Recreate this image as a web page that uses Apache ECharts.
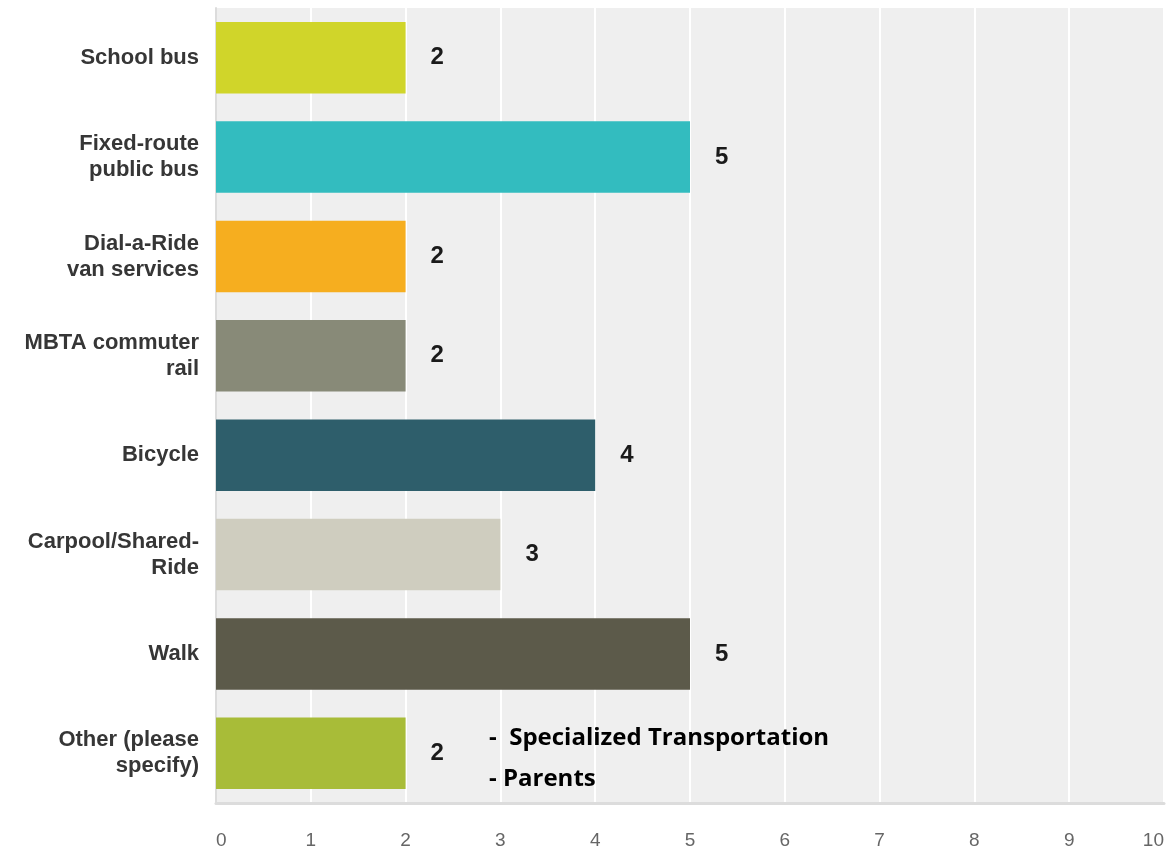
<!DOCTYPE html>
<html>
<head>
<meta charset="utf-8">
<script src="https://cdn.jsdelivr.net/npm/echarts@6/dist/echarts.min.js"></script>
<style>
html,body{margin:0;padding:0;background:#fff;}
#chart{width:1170px;height:851px;}
</style>
</head>
<body>
<div id="chart"></div>
<script>
var categories = ["School bus", "Fixed-route\npublic bus", "Dial-a-Ride\nvan services", "MBTA commuter\nrail", "Bicycle", "Carpool/Shared-\nRide", "Walk", "Other (please\nspecify)"];
var values = [2, 5, 2, 2, 4, 3, 5, 2];
var barColors = ["#d0d52a", "#33bcbf", "#f6ae1f", "#888a78", "#2e5e6b", "#cfcdbf", "#5c5a4a", "#a8bc38"];
var xTicks = [0, 1, 2, 3, 4, 5, 6, 7, 8, 9, 10];
var noteLines = ["-  Specialized Transportation", "- Parents"];

var FONT = "'Liberation Sans', Arial, sans-serif";
var chart = echarts.init(document.getElementById('chart'));
chart.setOption({
  animation: false,
  grid: {
    left: 216, right: 6, top: 8, bottom: 48,
    outerBoundsMode: 'none', containLabel: false,
    show: true, backgroundColor: '#efefef', borderWidth: 0
  },
  xAxis: {
    type: 'value', min: xTicks[0], max: xTicks[xTicks.length - 1], interval: 1,
    axisLine: { show: true, lineStyle: { color: '#dcdcdc', width: 3 } },
    axisTick: { show: false },
    splitLine: { show: true, lineStyle: { color: '#ffffff', width: 2 } },
    axisLabel: { color: '#666', fontSize: 19, fontFamily: FONT, margin: 28, alignMinLabel: 'left', alignMaxLabel: 'right' }
  },
  yAxis: {
    type: 'category', data: categories, inverse: true,
    axisLine: { show: true, lineStyle: { color: '#dcdcdc', width: 2 } },
    axisTick: { show: false },
    splitLine: { show: false },
    axisLabel: {
      color: '#363636', fontSize: 22, fontWeight: 'bold', lineHeight: 26,
      fontFamily: FONT, margin: 17, align: 'right'
    }
  },
  series: [{
    type: 'bar',
    data: values.map(function (v, i) { return { value: v, itemStyle: { color: barColors[i] } }; }),
    barWidth: '72%',
    label: {
      show: true, position: 'right', distance: 25,
      color: '#1a1a1a', fontSize: 24, fontWeight: 'bold',
      fontFamily: FONT
    }
  }],
  graphic: [
    { type: 'text', z: 100, left: 489, top: 726, style: { text: noteLines[0], fill: '#000', font: "bold 24px 'Open Sans', sans-serif" } },
    { type: 'text', z: 100, left: 489, top: 767, style: { text: noteLines[1], fill: '#000', font: "bold 24px 'Open Sans', sans-serif" } }
  ]
});
</script>
</body>
</html>
